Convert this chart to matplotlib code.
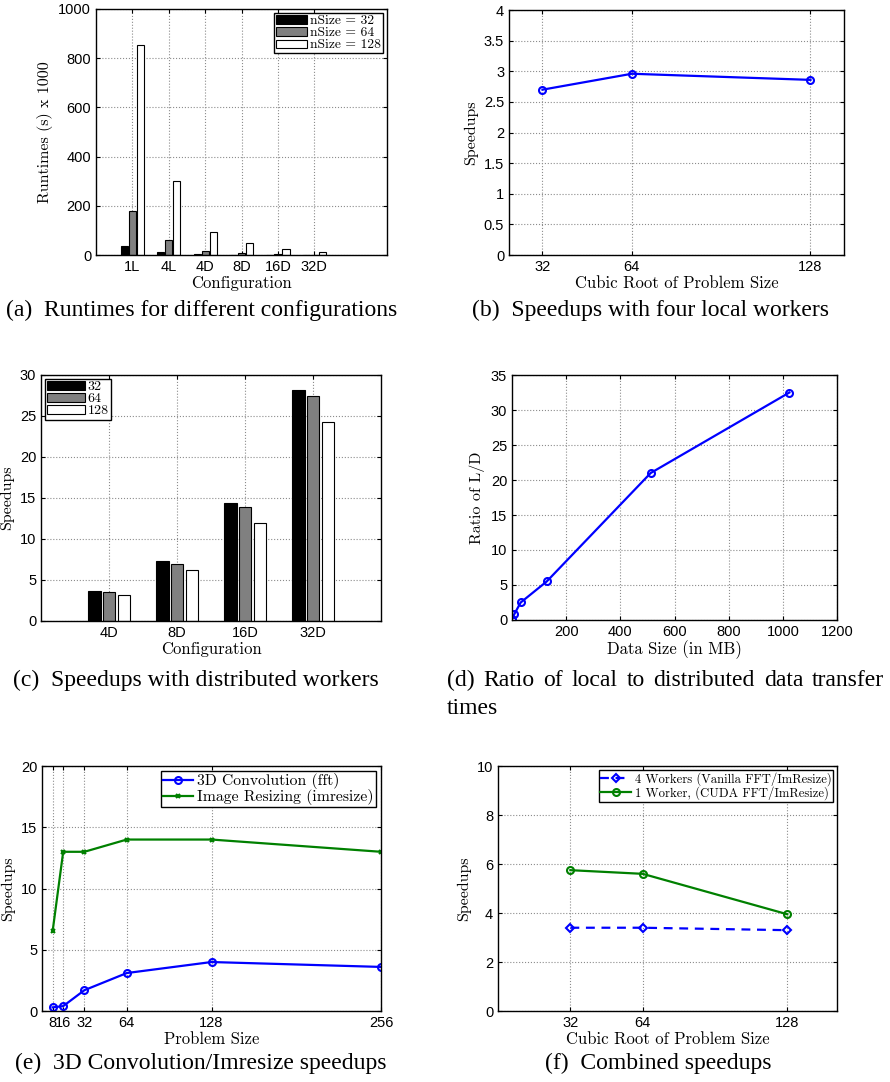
import numpy as np
import matplotlib
matplotlib.use("Agg")
import matplotlib.pyplot as plt

# (a) runtimes
configs_a = ["1L", "4L", "4D", "8D", "16D", "32D"]
runtime_32 = [35, 12, 3, 2, 1, 0.5]
runtime_64 = [180, 60, 17, 8, 4, 2]
runtime_128 = [855, 300, 92, 47, 24, 12]

# (b) local speedups
cube_root = [32, 64, 128]
speedup_local = [2.70, 2.96, 2.86]

# (c) distributed speedups
configs_c = ["4D", "8D", "16D", "32D"]
dist_32 = [3.6, 7.3, 14.4, 28.1]
dist_64 = [3.5, 7.0, 13.9, 27.4]
dist_128 = [3.2, 6.2, 12.0, 24.2]

# (d) L/D ratio
data_mb = [1, 8, 32, 128, 512, 1024]
ratio_ld = [0.2, 0.8, 2.5, 5.5, 21.0, 32.5]

# (e) conv / imresize
prob_size = [8, 16, 32, 64, 128, 256]
conv_fft = [0.3, 0.4, 1.7, 3.1, 4.0, 3.6]
imresize = [6.5, 13, 13, 14, 14, 13]

# (f) combined
workers4 = [3.4, 3.4, 3.3]
worker1_cuda = [5.75, 5.6, 3.95]

TICK_FONT = "Liberation Sans"
LAB_FONT = "cmr10"
CAP_FONT = "Liberation Serif"

plt.rcParams["font.family"] = TICK_FONT
plt.rcParams["font.size"] = 10


def style_axes(ax):
    ax.grid(True, linestyle=":", color="0.55", linewidth=0.8)
    ax.set_axisbelow(True)
    ax.tick_params(direction="in", top=True, right=True, length=3,
                   labelsize=10.5)
    for s in ax.spines.values():
        s.set_linewidth(1.0)


def labels(ax, xl, yl):
    ax.set_xlabel(xl, family=LAB_FONT, fontsize=12, labelpad=1)
    ax.set_ylabel(yl, family=LAB_FONT, fontsize=11.5, labelpad=4)


def legend(ax, loc, size, **kw):
    leg = ax.legend(loc=loc, prop={"family": LAB_FONT, "size": size},
                    fancybox=False, edgecolor="black", framealpha=1,
                    borderaxespad=0.3, **kw)
    leg.get_frame().set_linewidth(1.0)
    return leg


fig = plt.figure(figsize=(8.9, 10.82), dpi=100)

# ---- (a)
ax = fig.add_axes([0.1079, 0.7643, 0.3270, 0.2274])
x = np.arange(1, len(configs_a) + 1)
w = 0.2
ax.bar(x - 0.22, runtime_32, w, color="black", edgecolor="black", lw=0.8, label="nSize = 32")
ax.bar(x, runtime_64, w, color="0.5", edgecolor="black", lw=0.8, label="nSize = 64")
ax.bar(x + 0.22, runtime_128, w, color="white", edgecolor="black", lw=0.8, label="nSize = 128")
ax.set_xlim(0, 8)
ax.set_ylim(0, 1000)
ax.set_xticks(x)
ax.set_xticklabels(configs_a)
ax.set_yticks(np.arange(0, 1001, 200))
style_axes(ax)
labels(ax, "Configuration", "Runtimes (s) x 1000")
legend(ax, "upper right", 9.8, borderpad=0.15, labelspacing=0.0,
       handlelength=2.3, handleheight=0.55, handletextpad=0.2)

# ---- (b)
ax = fig.add_axes([0.5719, 0.7643, 0.3764, 0.2264])
ax.plot(cube_root, speedup_local, color="blue", lw=1.6, marker="o", ms=5,
        mfc="none", mew=1.5)
ax.set_xlim(20, 140)
ax.set_ylim(0, 4)
ax.set_xticks(cube_root)
ax.set_yticks(np.arange(0, 4.01, 0.5))
ax.set_yticklabels(["0", "0.5", "1", "1.5", "2", "2.5", "3", "3.5", "4"])
style_axes(ax)
labels(ax, "Cubic Root of Problem Size", "Speedups")

# ---- (c)
ax = fig.add_axes([0.0461, 0.4261, 0.3820, 0.2274])
x = np.arange(1, len(configs_c) + 1)
w = 0.19
ax.bar(x - 0.22, dist_32, w, color="black", edgecolor="black", lw=0.8, label="32")
ax.bar(x, dist_64, w, color="0.5", edgecolor="black", lw=0.8, label="64")
ax.bar(x + 0.22, dist_128, w, color="white", edgecolor="black", lw=0.8, label="128")
ax.set_xlim(0, 5)
ax.set_ylim(0, 30)
ax.set_xticks(x)
ax.set_xticklabels(configs_c)
ax.set_yticks(np.arange(0, 31, 5))
style_axes(ax)
labels(ax, "Configuration", "Speedups")
legend(ax, "upper left", 10, borderpad=0.15, labelspacing=0.0,
       handlelength=2.7, handleheight=0.55, handletextpad=0.2)

# ---- (d)
ax = fig.add_axes([0.5753, 0.4270, 0.3652, 0.2264])
ax.plot(data_mb, ratio_ld, color="blue", lw=1.6, marker="o", ms=5,
        mfc="none", mew=1.5)
ax.set_xlim(0, 1200)
ax.set_ylim(0, 35)
ax.set_xticks(np.arange(200, 1201, 200))
ax.set_yticks(np.arange(0, 36, 5))
style_axes(ax)
labels(ax, "Data Size (in MB)", "Ratio of L/D")

# ---- (e)
ax = fig.add_axes([0.0472, 0.0656, 0.3809, 0.2264])
ax.plot(prob_size, conv_fft, color="blue", lw=1.6, marker="o", ms=5,
        mfc="none", mew=1.5, label="3D Convolution (fft)")
ax.plot(prob_size, imresize, color="green", lw=1.6, marker="x", ms=3.5,
        mew=1.5, label="Image Resizing (imresize)")
ax.set_xlim(0, 256)
ax.set_ylim(0, 20)
ax.set_xticks(prob_size)
ax.set_yticks(np.arange(0, 21, 5))
style_axes(ax)
labels(ax, "Problem Size", "Speedups")
legend(ax, "upper right", 11.3, borderpad=0.15, labelspacing=0.0,
       handlelength=1.9, handletextpad=0.3)

# ---- (f)
ax = fig.add_axes([0.5596, 0.0656, 0.3809, 0.2264])
ax.plot(cube_root, workers4, color="blue", lw=1.6, ls="--", dashes=(4, 3),
        marker="D", ms=4.5, mfc="none", mew=1.5,
        label="4 Workers (Vanilla FFT/ImResize)")
ax.plot(cube_root, worker1_cuda, color="green", lw=1.6, marker="o", ms=5,
        mfc="none", mew=1.5, label="1 Worker, (CUDA FFT/ImResize)")
ax.set_xlim(0, 150)
ax.set_ylim(0, 10)
ax.set_xticks(cube_root)
ax.set_yticks(np.arange(0, 11, 2))
style_axes(ax)
labels(ax, "Cubic Root of Problem Size", "Speedups")
legend(ax, "upper right", 9.1, borderpad=0.15, labelspacing=0.05,
       handlelength=2.4, handletextpad=0.3)

# captions
cap = dict(family=CAP_FONT, fontsize=17, va="center")
fig.text(202 / 890, 1 - 310 / 1082, "(a)  Runtimes for different configurations", ha="center", **cap)
fig.text(650 / 890, 1 - 310 / 1082, "(b)  Speedups with four local workers", ha="center", **cap)
fig.text(196 / 890, 1 - 680 / 1082, "(c)  Speedups with distributed workers", ha="center", **cap)
fig.text(201 / 890, 1 - 1063 / 1082, "(e)  3D Convolution/Imresize speedups", ha="center", **cap)
fig.text(658 / 890, 1 - 1063 / 1082, "(f)  Combined speedups", ha="center", **cap)

# justified first line of caption (d)
words_d = ["(d)", "Ratio", "of", "local", "to", "distributed", "data", "transfer"]
renderer = fig.canvas.get_renderer()
objs = [fig.text(0, 1 - 680 / 1082, wd, ha="left", **cap) for wd in words_d]
widths = [t.get_window_extent(renderer).width for t in objs]
left_px, right_px = 447, 884
gap = (right_px - left_px - sum(widths)) / (len(words_d) - 1)
pos = left_px
for t, wdt in zip(objs, widths):
    t.set_x(pos / 890)
    pos += wdt + gap
fig.text(447 / 890, 1 - 709 / 1082, "times", ha="left", **cap)

fig.savefig("out.png", dpi=100)
